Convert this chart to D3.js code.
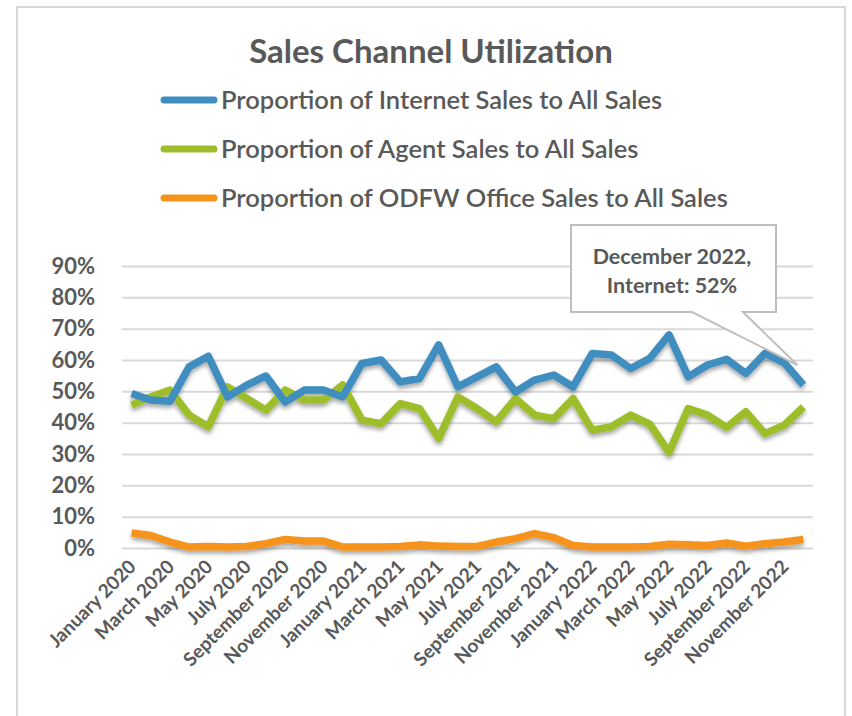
<!DOCTYPE html>
<html>
<head>
<meta charset="utf-8">
<script src="https://cdn.jsdelivr.net/npm/d3@7"></script>
<style>
  body { margin: 0; background: #fff; }
  svg { display: block; font-family: Lato, "Open Sans", sans-serif; }
</style>
</head>
<body>
<svg id="chart" width="852" height="716"></svg>
<script>
// month categories, Jan 2020 .. Dec 2022
const months = [
  "January 2020", "February 2020", "March 2020", "April 2020", "May 2020", "June 2020",
  "July 2020", "August 2020", "September 2020", "October 2020", "November 2020", "December 2020",
  "January 2021", "February 2021", "March 2021", "April 2021", "May 2021", "June 2021",
  "July 2021", "August 2021", "September 2021", "October 2021", "November 2021", "December 2021",
  "January 2022", "February 2022", "March 2022", "April 2022", "May 2022", "June 2022",
  "July 2022", "August 2022", "September 2022", "October 2022", "November 2022", "December 2022"
];

// percentages
const internet = [49.3, 47.2, 46.8, 57.8, 61.2, 48.2, 52.0, 54.9, 46.6, 50.4, 50.4, 48.2,
                  58.9, 60.0, 53.0, 54.1, 64.8, 51.4, 54.6, 57.8, 49.8, 53.6, 55.2, 51.4,
                  62.1, 61.6, 57.3, 60.5, 68.0, 54.6, 58.4, 60.2, 55.7, 62.1, 59.1, 52.0];
const agent    = [45.6, 48.2, 50.4, 42.4, 38.7, 51.4, 47.7, 44.0, 50.4, 47.2, 47.2, 52.0,
                  40.8, 39.7, 46.1, 44.5, 35.0, 48.2, 44.5, 40.3, 47.7, 42.4, 41.3, 47.7,
                  37.6, 38.7, 42.4, 39.5, 30.5, 44.5, 42.4, 38.5, 43.5, 36.5, 39.2, 45.0];
const office   = [4.8, 4.0, 1.9, 0.3, 0.5, 0.3, 0.5, 1.4, 2.7, 2.2, 2.2, 0.3,
                  0.3, 0.3, 0.5, 1.0, 0.6, 0.5, 0.5, 1.9, 3.0, 4.6, 3.3, 0.8,
                  0.3, 0.3, 0.3, 0.5, 1.2, 1.0, 0.8, 1.6, 0.6, 1.4, 1.9, 2.7];

const seriesNames = [
  "Proportion of Internet Sales to All Sales",
  "Proportion of Agent Sales to All Sales",
  "Proportion of ODFW Office Sales to All Sales"
];
const seriesColors = ["#3f8dc0", "#9dbd2c", "#f6931b"];
const yTicks = [0, 10, 20, 30, 40, 50, 60, 70, 80, 90];

const svg = d3.select("#chart");
const textColor = "#595959";

// outer chart border
svg.append("rect")
  .attr("x", 17).attr("y", 7)
  .attr("width", 828).attr("height", 730)
  .attr("fill", "#fff")
  .attr("stroke", "#d9d9d9").attr("stroke-width", 2);

// drop shadow like the office chart
const defs = svg.append("defs");
defs.append("filter")
  .attr("id", "shadow")
  .attr("x", "-5%").attr("y", "-20%").attr("width", "110%").attr("height", "160%")
  .append("feDropShadow")
  .attr("dx", 0).attr("dy", 3).attr("stdDeviation", 2)
  .attr("flood-color", "#000").attr("flood-opacity", 0.35);

const plotLeft = 122, plotRight = 813, plotTop = 266, plotBottom = 548;

const x = d3.scalePoint()
  .domain(months)
  .range([plotLeft, plotRight])
  .padding(0.5);

const y = d3.scaleLinear()
  .domain([0, 90])
  .range([plotBottom, plotTop]);

// title
svg.append("text")
  .attr("x", 431).attr("y", 63)
  .attr("text-anchor", "middle")
  .attr("font-size", 33).attr("font-weight", "bold")
  .attr("fill", textColor)
  .text("Sales Channel Utilization");

// legend
const legend = svg.append("g");
seriesNames.forEach(function (name, i) {
  const ly = 100 + i * 49;
  legend.append("line")
    .attr("x1", 164).attr("x2", 214)
    .attr("y1", ly).attr("y2", ly)
    .attr("stroke", seriesColors[i])
    .attr("stroke-width", 7)
    .attr("stroke-linecap", "round");
  legend.append("text")
    .attr("x", 221).attr("y", ly + 9)
    .attr("font-size", 25.5)
    .attr("font-weight", 600)
    .attr("fill", textColor)
    .text(name);
});

// y gridlines + labels
const yAxis = d3.axisLeft(y)
  .tickValues(yTicks)
  .tickSize(-(plotRight - plotLeft))
  .tickPadding(27)
  .tickFormat(d => d + "%");

const gy = svg.append("g")
  .attr("transform", `translate(${plotLeft},0)`)
  .call(yAxis);
gy.select(".domain").remove();
gy.selectAll(".tick line")
  .attr("stroke", "#d9d9d9").attr("stroke-width", 2);
gy.selectAll(".tick text")
  .attr("fill", textColor)
  .attr("font-size", 22)
  .attr("font-weight", "bold")
  .attr("font-family", "Lato, sans-serif");

// x labels, every other month
const xAxis = d3.axisBottom(x)
  .tickValues(months.filter((d, i) => i % 2 === 0))
  .tickSize(0)
  .tickPadding(0);

const gx = svg.append("g")
  .attr("transform", `translate(0,${plotBottom})`)
  .call(xAxis);
gx.select(".domain").remove();
gx.selectAll(".tick text")
  .attr("fill", textColor)
  .attr("font-size", 19)
  .attr("font-weight", "bold")
  .attr("font-family", "Lato, sans-serif")
  .attr("text-anchor", "end")
  .attr("dy", null)
  .attr("transform", "translate(5,20) rotate(-45)");

// series lines
const allSeries = [internet, agent, office];
const line = d3.line()
  .x((d, i) => x(months[i]))
  .y(d => y(d));

const lines = svg.append("g").attr("filter", "url(#shadow)");
// draw office first so internet/agent sit on top
[2, 1, 0].forEach(function (k) {
  lines.append("path")
    .datum(allSeries[k])
    .attr("d", line)
    .attr("fill", "none")
    .attr("stroke", seriesColors[k])
    .attr("stroke-width", 7.5)
    .attr("stroke-linejoin", "round")
    .attr("stroke-linecap", "butt");
});

// callout for the last internet point
const last = months.length - 1;
const tipX = x(months[last]) - 6, tipY = y(internet[last]) - 20;
const bx0 = 571, bx1 = 776, by0 = 225, by1 = 312;
svg.append("path")
  .attr("d", `M${bx0},${by0} L${bx1},${by0} L${bx1},${by1} L743,${by1} L${tipX},${tipY} L692,${by1} L${bx0},${by1} Z`)
  .attr("fill", "#fff")
  .attr("stroke", "#bfbfbf")
  .attr("stroke-width", 2);

const callout = svg.append("text")
  .attr("text-anchor", "middle")
  .attr("font-size", 21.5)
  .attr("font-weight", "bold")
  .attr("fill", textColor);
callout.append("tspan").attr("x", 672).attr("y", 264).text(months[last] + ",");
callout.append("tspan").attr("x", 672).attr("y", 293).text("Internet: " + Math.round(internet[last]) + "%");
</script>
</body>
</html>
